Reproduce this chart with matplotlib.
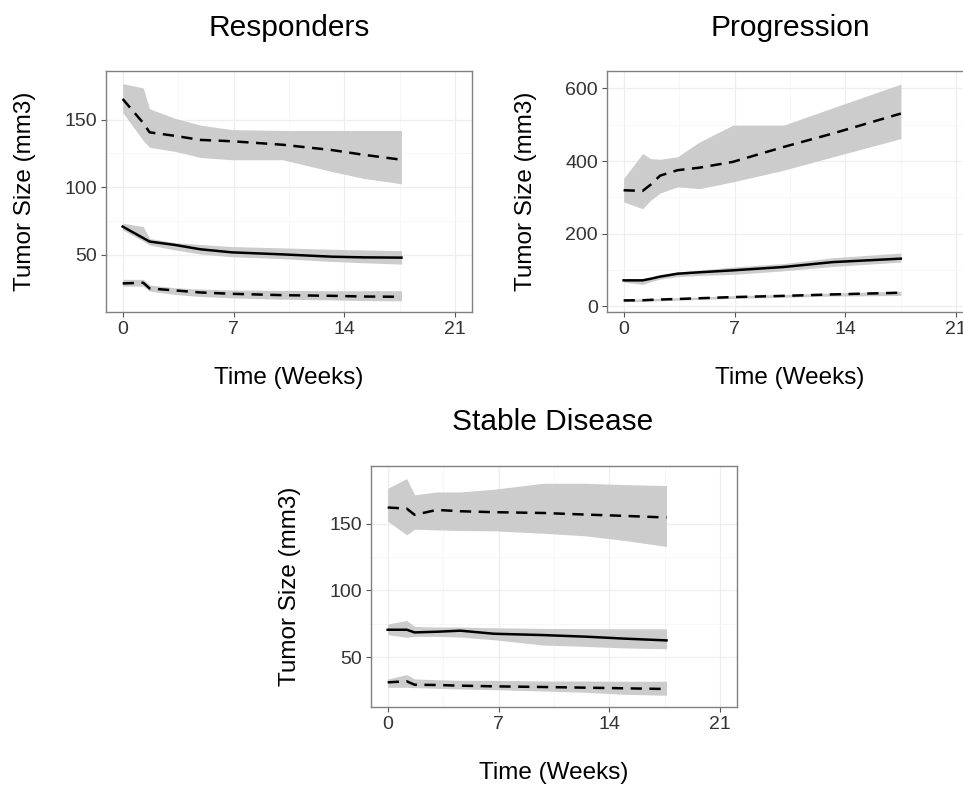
import matplotlib
matplotlib.use("Agg")
import matplotlib.pyplot as plt
import numpy as np

plt.rcParams['font.family'] = ['Liberation Sans', 'DejaVu Sans']

# ---- data (weeks, mean, band low, band high) ----
resp_weeks = [0, 1.3, 1.7, 3.3, 4.9, 6.9, 10.1, 13.2, 15.2, 17.6]
resp_upper = [165.3, 147.5, 140.6, 138, 135, 134, 131.4, 127.5, 124, 120.3]
resp_upper_lo = [155.4, 134.5, 129.5, 126.5, 122, 120.3, 120.3, 111.6, 106.5, 102.5]
resp_upper_hi = [176.7, 173.5, 158, 151, 146, 142.6, 142, 142, 142, 142]
resp_mid = [70.8, 62.3, 59.7, 57.2, 54, 51.7, 50.2, 48.5, 48, 47.8]
resp_mid_lo = [68.3, 60, 57.2, 53.5, 50.5, 48.5, 47, 45, 44, 43]
resp_mid_hi = [73.3, 70.8, 62, 59, 57.5, 56, 55, 54, 53.5, 53]
resp_low = [28.7, 29.2, 25, 23.5, 22, 21, 20, 19.5, 19, 18.8]
resp_low_lo = [26.7, 26.7, 23, 20.5, 19, 18, 17, 16.5, 16, 15.8]
resp_low_hi = [31.7, 31.7, 27.5, 25.5, 24.5, 23.8, 23.5, 23.3, 23.3, 23.3]

prog_weeks = [0, 1.2, 1.7, 2.3, 3.4, 4.8, 6.9, 10.1, 13.2, 17.5]
prog_upper = [319.8, 318, 335, 360, 375, 382, 398, 439, 476, 531]
prog_upper_lo = [287.6, 269, 292, 312, 329, 324.4, 342.8, 375, 411.7, 462]
prog_upper_hi = [352, 421, 407, 405, 412, 453, 499, 499, 546.7, 612]
prog_mid = [71.7, 71.7, 76, 82, 90, 94, 99.3, 108.5, 122, 131.5]
prog_mid_lo = [67, 60.6, 68, 75, 82, 85, 88, 98, 110, 122]
prog_mid_hi = [76, 76, 80, 86, 95, 100, 108.5, 118, 134, 147]
prog_low = [16.5, 17, 18, 19, 20.5, 22.5, 25.7, 29, 33, 37.7]
prog_low_lo = [13, 13.5, 14.5, 15.5, 17, 19, 22, 25, 28.5, 30]
prog_low_hi = [20, 20.5, 21.5, 22.5, 24, 26, 29.5, 33, 37, 42]

stab_weeks = [0, 1.2, 1.7, 3.1, 4.6, 6.7, 9.8, 12.5, 15, 17.6]
stab_upper = [162.3, 161.5, 156.8, 160.5, 159.5, 158.8, 158.2, 157, 156, 154.8]
stab_upper_lo = [152, 141.8, 146, 145.5, 145, 144.8, 143, 141, 137.5, 133]
stab_upper_hi = [176.8, 184, 171.8, 174, 174, 176, 180.5, 180.5, 179.5, 178.8]
stab_mid = [70.5, 70.5, 68.5, 69, 69.8, 67.5, 66.5, 65.3, 63.8, 62.5]
stab_mid_lo = [66.8, 64.8, 65.5, 65.5, 65, 63, 59, 58, 56.8, 56.2]
stab_mid_hi = [74.8, 77.5, 73, 72.5, 72.5, 72, 71.5, 71.3, 71.2, 71.2]
stab_low = [31, 31.8, 29.2, 29, 28.5, 28, 27.5, 27, 26.5, 26]
stab_low_lo = [27.3, 27.3, 27, 26.5, 26, 25.5, 24.5, 23.5, 22, 21.3]
stab_low_hi = [33.5, 36.8, 33.5, 33, 32.5, 32.5, 32, 32, 31.8, 31.8]

x_ticks = [0, 7, 14, 21]
resp_yticks = [50, 100, 150]
prog_yticks = [0, 200, 400, 600]
stab_yticks = [50, 100, 150]


def draw_panel(ax, weeks, series, yticks, ylim):
    for mean, lo, hi, style in series:
        ax.fill_between(weeks, lo, hi, color="#cccccc", lw=0, zorder=2)
    for mean, lo, hi, style in series:
        if style == "dashed":
            ax.plot(weeks, mean, color="black", lw=1.8, dashes=(4.5, 3), zorder=3)
        else:
            ax.plot(weeks, mean, color="black", lw=1.8, zorder=3)

    ax.set_xlim(-1.05, 22.05)
    ax.set_ylim(*ylim)
    ax.set_xticks(x_ticks)
    ax.set_yticks(yticks)
    ax.set_xticks([3.5, 10.5, 17.5], minor=True)
    ax.set_yticks([(a + b) / 2 for a, b in zip(yticks[:-1], yticks[1:])], minor=True)
    ax.grid(True, which="major", color="#eeeeee", lw=0.9, zorder=0)
    ax.grid(True, which="minor", color="#f6f6f6", lw=0.6, zorder=0)
    ax.set_axisbelow(True)
    ax.tick_params(which="major", length=3.5, width=0.8, color="#555555",
                   labelsize=14, labelcolor="#333333", pad=3)
    ax.tick_params(which="minor", length=0)
    for sp in ax.spines.values():
        sp.set_color("#808080")
        sp.set_linewidth(1.0)

    ax.set_xlabel("Time (Weeks)", fontsize=17.5, va="center")
    ax.set_ylabel("Tumor Size (mm3)", fontsize=17.5, va="center")
    ax.xaxis.set_label_coords(0.5, -0.274)
    ax.yaxis.set_label_coords(-0.222, 0.5)


fig = plt.figure(figsize=(9.63, 7.85), dpi=100)

ax1 = fig.add_axes([0.1101, 0.6025, 0.380, 0.307])
ax2 = fig.add_axes([0.6303, 0.6025, 0.380, 0.307])
ax3 = fig.add_axes([0.3853, 0.0994, 0.380, 0.307])

draw_panel(ax1, resp_weeks, [
    (resp_upper, resp_upper_lo, resp_upper_hi, "dashed"),
    (resp_mid, resp_mid_lo, resp_mid_hi, "solid"),
    (resp_low, resp_low_lo, resp_low_hi, "dashed"),
], resp_yticks, (7.5, 186))

draw_panel(ax2, prog_weeks, [
    (prog_upper, prog_upper_lo, prog_upper_hi, "dashed"),
    (prog_mid, prog_mid_lo, prog_mid_hi, "solid"),
    (prog_low, prog_low_lo, prog_low_hi, "dashed"),
], prog_yticks, (-15.5, 648))

draw_panel(ax3, stab_weeks, [
    (stab_upper, stab_upper_lo, stab_upper_hi, "dashed"),
    (stab_mid, stab_mid_lo, stab_mid_hi, "solid"),
    (stab_low, stab_low_lo, stab_low_hi, "dashed"),
], stab_yticks, (12.5, 193.5))

fig.text(289 / 963, 1 - 28 / 785, "Responders", fontsize=21.5, ha="center", va="center")
fig.text(790 / 963, 1 - 28 / 785, "Progression", fontsize=21.5, ha="center", va="center")
fig.text(553 / 963, 1 - 422 / 785, "Stable Disease", fontsize=21.5, ha="center", va="center")

fig.savefig("out.png", dpi=100)
